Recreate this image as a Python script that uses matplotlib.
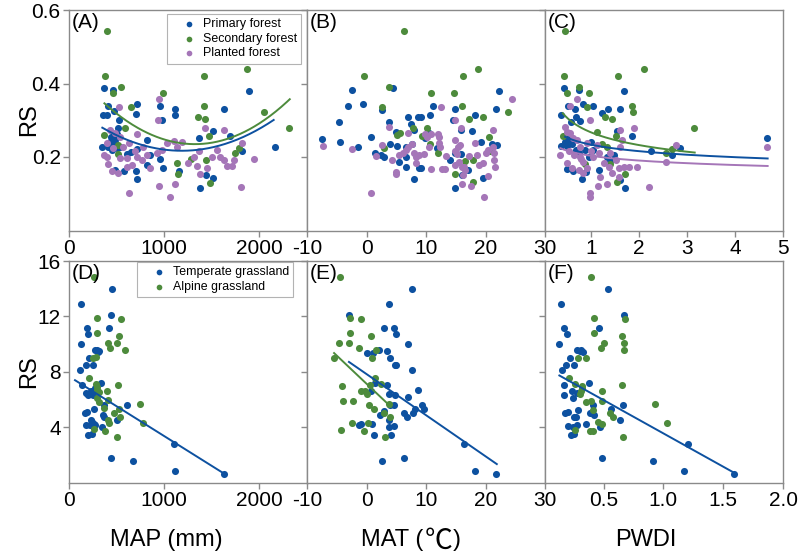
import numpy as np
import matplotlib

matplotlib.use("Agg")
import matplotlib.pyplot as plt

plt.rcParams["font.family"] = ["Liberation Sans", "Noto Sans CJK SC", "DejaVu Sans"]
plt.rcParams["axes.unicode_minus"] = False

BLUE = "#0d51a0"
GREEN = "#4d8b3c"
PURPLE = "#a576b8"
GREY = "#8a8a8a"

# ---- forest sites: (A) MAP, (B) MAT, (C) PWDI vs RS ----
a_primary_x = [372, 460, 1895, 719, 414, 958, 1109, 1116, 705, 1632, 982, 361, 396, 470, 530,
               519, 1512, 1368, 1695, 344, 824, 853, 958, 986, 2161, 1818, 712, 705, 582, 484,
               1372, 1512, 1438, 1151, 824, 649, 607, 712, 431, 466, 502, 414, 449, 484, 537,
               440, 500]
a_primary_y = [0.389, 0.382, 0.380, 0.343, 0.338, 0.338, 0.330, 0.314, 0.316, 0.330, 0.301, 0.313,
               0.313, 0.325, 0.300, 0.280, 0.272, 0.253, 0.257, 0.228, 0.246, 0.205, 0.194, 0.169,
               0.226, 0.216, 0.140, 0.161, 0.161, 0.165, 0.115, 0.142, 0.151, 0.162, 0.178, 0.213,
               0.208, 0.222, 0.242, 0.233, 0.224, 0.228, 0.219, 0.246, 0.228, 0.255, 0.262]
a_secondary_x = [403, 379, 544, 460, 986, 656, 1418, 1870, 1414, 1358, 1425, 2049, 2312, 368,
                 589, 1467, 1782, 1747, 1435, 1284, 1144, 1133, 1481, 519, 519]
a_secondary_y = [0.544, 0.420, 0.390, 0.373, 0.374, 0.335, 0.420, 0.439, 0.339, 0.308, 0.304,
                 0.323, 0.278, 0.260, 0.279, 0.257, 0.225, 0.210, 0.192, 0.195, 0.153, 0.183,
                 0.130, 0.233, 0.207]
a_planted_x = [526, 947, 937, 1425, 1625, 1818, 1940, 1803, 632, 1060, 947, 1116, 712, 365, 407,
               449, 519, 607, 659, 765, 853, 923, 1028, 1098, 1133, 1249, 1344, 1379, 1449, 1554,
               1589, 1660, 1712, 1730, 431, 484, 537, 572, 466, 396, 625, 695, 782, 817, 975,
               607, 712, 396, 537, 1186, 1309, 1502, 1361, 1625]
a_planted_y = [0.336, 0.357, 0.300, 0.279, 0.273, 0.237, 0.194, 0.118, 0.101, 0.092, 0.120,
               0.127, 0.263, 0.205, 0.181, 0.163, 0.156, 0.196, 0.178, 0.192, 0.169, 0.210,
               0.237, 0.243, 0.228, 0.184, 0.176, 0.155, 0.169, 0.218, 0.201, 0.176, 0.176,
               0.192, 0.273, 0.264, 0.255, 0.228, 0.224, 0.237, 0.237, 0.215, 0.228, 0.205,
               0.218, 0.174, 0.201, 0.201, 0.196, 0.241, 0.201, 0.201, 0.215, 0.192]

b_primary_x = [4.5, -2.5, 22.2, -3.05, -0.6, 2.6, 11.2, 14.8, 21.8, -4.7, 7.0, 8.6, 9.2, 10.6,
               18.3, 14.6, 3.8, -7.4, -4.4, -1.4, 0.8, 4.9, 7.5, 8.0, 10.5, 17.7, 15.9, 1.5, 2.5,
               3.0, 3.9, 5.1, 5.5, 6.7, 6.7, 8.9, 9.2, 7.9, 11.8, 14.1, 14.9, 16.0, 14.8, 17.1,
               19.5, 19.3, 21.1, 22.0, 15.8, 9.9, 7.6, 6.6]
b_primary_y = [0.389, 0.382, 0.380, 0.338, 0.343, 0.328, 0.338, 0.330, 0.330, 0.295, 0.310,
               0.310, 0.310, 0.315, 0.313, 0.300, 0.295, 0.250, 0.240, 0.227, 0.254, 0.267,
               0.290, 0.273, 0.265, 0.272, 0.274, 0.210, 0.205, 0.200, 0.235, 0.230, 0.187,
               0.200, 0.174, 0.170, 0.170, 0.140, 0.224, 0.193, 0.211, 0.151, 0.115, 0.165,
               0.142, 0.240, 0.235, 0.232, 0.209, 0.252, 0.235, 0.227]
b_secondary_x = [6.33, -0.44, 3.83, 10.8, 14.7, 16.2, 18.8, 2.6, 16.0, 23.8, 19.5, 17.2, 5.1,
                 5.7, 7.8, 10.2, 9.4, 20.6, 3.0, 12.1, 14.9, 17.9, 17.9, 16.6, 20.8, 10.7]
b_secondary_y = [0.544, 0.420, 0.390, 0.374, 0.374, 0.420, 0.440, 0.335, 0.339, 0.323, 0.308,
                 0.304, 0.260, 0.265, 0.279, 0.279, 0.257, 0.255, 0.225, 0.210, 0.153, 0.131,
                 0.193, 0.190, 0.217, 0.236]
b_planted_x = [-7.3, -2.4, 0.8, 19.7, 24.4, 12.5, 14.8, 15.9, 21.3, 3.8, 7.0, 9.8, 10.8, 10.2,
               12.0, 12.2, 2.6, 1.6, 4.3, 4.9, 5.0, 5.5, 6.1, 6.6, 6.9, 7.7, 8.0, 8.3, 8.4, 8.9,
               9.6, 10.5, 10.9, 12.2, 12.4, 12.7, 13.2, 13.4, 14.8, 15.3, 14.8, 15.7, 15.2, 14.9,
               15.5, 16.1, 16.4, 16.6, 16.3, 16.0, 17.5, 17.2, 18.2, 18.6, 18.9, 19.5, 20.0,
               20.5, 21.3, 21.4, 21.6, 21.5, 20.5]
b_planted_y = [0.229, 0.222, 0.101, 0.092, 0.357, 0.336, 0.300, 0.279, 0.273, 0.281, 0.264,
               0.262, 0.262, 0.255, 0.262, 0.255, 0.232, 0.202, 0.193, 0.160, 0.155, 0.205,
               0.210, 0.218, 0.227, 0.236, 0.212, 0.200, 0.183, 0.205, 0.207, 0.228, 0.166,
               0.237, 0.228, 0.166, 0.166, 0.204, 0.246, 0.228, 0.217, 0.232, 0.208, 0.178,
               0.187, 0.174, 0.174, 0.165, 0.152, 0.127, 0.120, 0.203, 0.239, 0.206, 0.178,
               0.185, 0.210, 0.219, 0.228, 0.192, 0.174, 0.210, 0.147]

c_primary_x = [0.43, 0.74, 1.68, 0.37, 0.52, 0.66, 0.68, 0.84, 1.05, 1.23, 1.35, 1.61, 0.58,
               0.77, 1.85, 1.54, 4.67, 2.24, 2.69, 2.85, 0.50, 0.53, 0.51, 0.68, 0.75, 1.00, 1.05,
               1.47, 0.50, 0.63, 0.81, 0.89, 1.16, 1.61, 1.71, 1.33, 1.40, 0.88, 0.38, 0.45,
               0.60, 0.95]
c_primary_y = [0.389, 0.382, 0.380, 0.313, 0.338, 0.330, 0.310, 0.345, 0.338, 0.320, 0.330,
               0.330, 0.295, 0.298, 0.257, 0.272, 0.251, 0.217, 0.206, 0.225, 0.230, 0.260,
               0.245, 0.220, 0.210, 0.240, 0.220, 0.206, 0.166, 0.163, 0.140, 0.160, 0.165,
               0.137, 0.115, 0.200, 0.190, 0.218, 0.231, 0.240, 0.235, 0.200]
c_secondary_x = [0.46, 0.43, 1.56, 2.11, 0.49, 0.74, 0.95, 0.91, 1.85, 1.87, 3.14, 1.30, 1.44,
                 0.41, 1.51, 0.88, 1.40, 1.71, 1.55, 2.57, 2.69, 1.13, 1.33, 1.22]
c_secondary_y = [0.544, 0.420, 0.420, 0.440, 0.373, 0.390, 0.374, 0.336, 0.339, 0.323, 0.279,
                 0.308, 0.304, 0.257, 0.257, 0.180, 0.182, 0.153, 0.131, 0.210, 0.222, 0.267,
                 0.227, 0.236]
c_planted_x = [0.70, 0.57, 0.97, 1.61, 1.89, 2.76, 2.57, 0.97, 0.97, 1.14, 2.20, 1.33, 4.67,
               0.36, 0.46, 0.49, 0.57, 0.63, 0.70, 0.77, 0.91, 1.12, 0.49, 0.60, 0.74, 0.84,
               0.91, 1.05, 1.16, 1.26, 1.37, 1.40, 1.51, 1.58, 1.68, 1.79, 1.96, 0.77, 0.84,
               1.61, 1.64, 1.44, 1.58, 1.19, 0.55, 0.65, 0.80, 1.00]
c_planted_y = [0.357, 0.338, 0.300, 0.273, 0.279, 0.232, 0.187, 0.101, 0.092, 0.120, 0.119,
               0.127, 0.228, 0.205, 0.282, 0.269, 0.264, 0.251, 0.246, 0.228, 0.237, 0.233,
               0.183, 0.169, 0.165, 0.156, 0.169, 0.200, 0.210, 0.183, 0.174, 0.210, 0.192,
               0.169, 0.174, 0.174, 0.174, 0.200, 0.187, 0.228, 0.246, 0.156, 0.146, 0.146,
               0.215, 0.205, 0.195, 0.215]

# fitted curves for the forest panels
a_primary_fit = {"x0": 1185, "y0": 0.217, "a": 9.0e-8, "span": (350, 2150)}
a_secondary_fit = {"x0": 1322, "y0": 0.235, "a": 1.23e-7, "span": (372, 2319)}
c_primary_fit = {"a": 0.2335, "b": -0.1135, "span": (0.46, 4.68)}
c_secondary_fit = {"a": 0.267, "b": -0.2001, "span": (0.41, 3.16)}
c_planted_fit = {"a": 0.2033, "b": -0.0951, "span": (0.36, 4.68)}

# ---- grassland sites: (D) MAP, (E) MAT, (F) PWDI vs RS ----
d_temperate_x = [456, 123, 439, 189, 418, 200, 126, 270, 290, 320, 300, 207, 179, 249, 116, 140,
                 333, 175, 220, 200, 250, 230, 270, 607, 372, 263, 165, 190, 361, 372, 230, 260,
                 245, 175, 220, 270, 344, 509, 196, 240, 442, 670, 1116, 1105, 1625]
d_temperate_y = [14.0, 12.86, 12.07, 11.13, 11.13, 10.70, 10.03, 9.55, 9.6, 9.5, 9.4, 9.0, 8.52,
                 8.52, 8.1, 7.03, 7.2, 6.45, 6.4, 6.3, 6.35, 6.6, 6.8, 5.59, 5.59, 5.30, 4.99,
                 5.1, 4.9, 4.75, 4.5, 4.2, 4.4, 4.14, 4.14, 4.14, 4.0, 4.5, 3.42, 3.5, 1.74, 1.57,
                 0.81, 2.77, 0.61]
d_alpine_x = [267, 291, 544, 291, 523, 410, 509, 431, 583, 250, 280, 207, 280, 291, 298, 315,
              403, 519, 298, 312, 414, 747, 530, 368, 470, 537, 414, 425, 775, 263, 375, 509]
d_alpine_y = [14.88, 11.9, 11.8, 10.8, 10.6, 10.1, 10.1, 9.7, 9.6, 9.0, 9.05, 7.58, 7.1, 6.9,
              6.7, 6.55, 6.6, 7.05, 6.09, 5.85, 5.95, 5.66, 5.33, 5.4, 5.0, 4.7, 4.5, 4.3, 4.3,
              3.83, 3.75, 3.3]

e_temperate_x = [7.72, 3.83, -2.94, 3.0, 4.6, 4.9, 7.05, 0.0, 1.17, 2.17, 3.4, 3.95, 4.8, 5.0,
                 7.6, 1.5, 3.4, 0.7, 3.7, 4.8, 8.6, 6.9, 3.95, 4.6, 8.1, 9.3, 9.6, 7.8, 6.3, 6.8,
                 2.2, 2.9, 3.7, -1.3, -0.9, 0.9, 3.8, 4.6, 1.2, 4.2, 2.6, 6.3, 16.4, 18.3, 21.8]
e_temperate_y = [14.0, 12.86, 12.07, 11.13, 11.13, 10.70, 10.03, 9.38, 9.36, 9.55, 9.5, 9.0,
                 8.52, 8.52, 8.1, 7.2, 7.03, 6.6, 6.4, 6.3, 6.7, 6.2, 5.59, 5.59, 5.30, 5.6,
                 5.3, 5.0, 5.0, 4.75, 4.9, 5.2, 4.5, 4.14, 4.2, 4.2, 4.0, 4.1, 3.4, 3.4, 1.57,
                 1.74, 2.77, 0.81, 0.61]
e_alpine_x = [-4.5, -2.7, -1.0, -2.7, 0.8, -4.7, -3.0, -1.2, 1.6, 1.0, -5.4, 1.5, -4.1, -1.0,
              -0.2, 0.0, 0.6, 2.4, -3.9, -2.3, 0.5, 1.2, 3.7, 3.0, 4.0, -4.3, -2.5, -0.4, 0.2,
              3.1]
e_alpine_y = [14.88, 11.9, 11.8, 10.8, 10.6, 10.1, 10.1, 9.7, 9.6, 9.0, 9.0, 7.58, 7.0, 6.6,
              6.6, 6.4, 7.05, 7.1, 5.9, 5.9, 5.6, 5.3, 5.7, 5.0, 4.7, 3.8, 4.3, 3.7, 4.3, 3.3]

f_temperate_x = [0.54, 0.142, 0.667, 0.461, 0.172, 0.195, 0.131, 0.28, 0.31, 0.33, 0.30, 0.217,
                 0.25, 0.184, 0.15, 0.381, 0.172, 0.236, 0.167, 0.247, 0.278, 0.284, 0.409, 0.564,
                 0.661, 0.18, 0.20, 0.39, 0.42, 0.25, 0.27, 0.634, 0.20, 0.24, 0.28, 0.35, 0.467,
                 0.23, 0.25, 0.486, 0.911, 1.175, 1.209, 1.592]
f_temperate_y = [14.0, 12.86, 12.07, 11.13, 11.13, 10.70, 10.03, 9.6, 9.55, 9.45, 9.5, 9.0,
                 8.52, 8.52, 8.1, 7.2, 7.03, 6.6, 6.3, 6.1, 6.5, 5.26, 5.6, 5.3, 5.6, 5.0, 5.1,
                 5.0, 4.9, 4.7, 4.7, 4.5, 4.1, 4.0, 4.15, 4.2, 4.0, 3.4, 3.5, 1.74, 1.57, 0.81,
                 2.77, 0.61]
f_alpine_x = [0.395, 0.417, 0.68, 0.417, 0.653, 0.50, 0.48, 0.67, 0.673, 0.29, 0.35, 0.214,
              0.653, 0.32, 0.26, 0.486, 0.30, 0.31, 0.32, 0.49, 0.394, 0.35, 0.93, 0.409, 0.55,
              0.58, 0.45, 0.49, 1.028, 0.264, 0.39, 0.41, 0.66]
f_alpine_y = [14.88, 11.9, 11.8, 10.8, 10.6, 10.1, 9.7, 9.6, 10.1, 9.0, 9.0, 7.58, 7.03, 7.0,
              7.1, 6.6, 6.4, 6.6, 6.8, 5.9, 5.9, 5.8, 5.7, 5.26, 5.0, 4.7, 4.35, 4.2, 4.3, 3.8,
              3.75, 3.7, 3.3]

# straight fits for the grassland panels (start, end)
d_temperate_line = ([63, 1625], [7.39, 0.66])
e_temperate_line = ([-2.95, 21.9], [8.71, 1.33])
e_alpine_line = ([-5.45, 4.1], [9.35, 5.47])
f_temperate_line = ([0.13, 1.59], [7.73, 0.71])


def quad(fit):
    x = np.linspace(*fit["span"], 200)
    return x, fit["y0"] + fit["a"] * (x - fit["x0"]) ** 2


def power(fit):
    x = np.linspace(*fit["span"], 200)
    return x, fit["a"] * x ** fit["b"]


def style(ax, xlim, xticks, ylim, yticks, show_y, tag):
    ax.set_xlim(*xlim)
    ax.set_ylim(*ylim)
    ax.set_xticks(xticks)
    ax.set_yticks(yticks)
    if not show_y:
        ax.set_yticklabels([])
    for s in ax.spines.values():
        s.set_color(GREY)
        s.set_linewidth(1.0)
    ax.tick_params(direction="out", length=4, width=1.0, color=GREY, labelsize=15,
                   pad=2, labelcolor="black")
    ax.text(0.01, 0.985, tag, transform=ax.transAxes, ha="left", va="top", fontsize=15)


def legend(ax, anchor):
    leg = ax.legend(loc="upper left", bbox_to_anchor=anchor, fontsize=8.9, frameon=True,
                    fancybox=False, edgecolor="#a0a0a0", handletextpad=-0.25, borderpad=0.35,
                    labelspacing=0.2, handlelength=2.8, markerscale=0.8, borderaxespad=0)
    leg.get_frame().set_linewidth(0.8)


W, H = 798, 555
fig = plt.figure(figsize=(W / 100, H / 100), dpi=100)
lefts = [69, 307, 545]
width = 238
rows = [(10, 230.5), (261, 482.5)]
axes = []
for top, bot in rows:
    row = []
    for l in lefts:
        row.append(fig.add_axes([l / W, 1 - bot / H, width / W, (bot - top) / H]))
    axes.append(row)

kw = dict(s=26, linewidths=0, zorder=2)
ax = axes[0][0]
ax.scatter(a_primary_x, a_primary_y, color=BLUE, label="Primary forest", **kw)
ax.scatter(a_secondary_x, a_secondary_y, color=GREEN, label="Secondary forest", **kw)
ax.scatter(a_planted_x, a_planted_y, color=PURPLE, label="Planted forest", **kw)
ax.plot(*quad(a_primary_fit), color=BLUE, lw=1.4, zorder=3)
ax.plot(*quad(a_secondary_fit), color=GREEN, lw=1.4, zorder=3)
style(ax, (0, 2500), [0, 1000, 2000], (0, 0.6), [0.2, 0.4, 0.6], True, "(A)")
legend(ax, ((167 - 69) / 238, (230.5 - 14) / 220.5))

ax = axes[0][1]
ax.scatter(b_primary_x, b_primary_y, color=BLUE, **kw)
ax.scatter(b_secondary_x, b_secondary_y, color=GREEN, **kw)
ax.scatter(b_planted_x, b_planted_y, color=PURPLE, **kw)
style(ax, (-10, 30), [-10, 0, 10, 20, 30], (0, 0.6), [0.2, 0.4, 0.6], False, "(B)")

ax = axes[0][2]
ax.scatter(c_primary_x, c_primary_y, color=BLUE, **kw)
ax.scatter(c_secondary_x, c_secondary_y, color=GREEN, **kw)
ax.scatter(c_planted_x, c_planted_y, color=PURPLE, **kw)
ax.plot(*power(c_primary_fit), color=BLUE, lw=1.4, zorder=3)
ax.plot(*power(c_secondary_fit), color=GREEN, lw=1.4, zorder=3)
ax.plot(*power(c_planted_fit), color=PURPLE, lw=1.4, zorder=3)
style(ax, (0.04, 5.0), [1, 2, 3, 4, 5], (0, 0.6), [0.2, 0.4, 0.6], False, "(C)")

ax = axes[1][0]
ax.scatter(d_temperate_x, d_temperate_y, color=BLUE, label="Temperate grassland", **kw)
ax.scatter(d_alpine_x, d_alpine_y, color=GREEN, label="Alpine grassland", **kw)
ax.plot(*d_temperate_line, color=BLUE, lw=1.4, zorder=3)
style(ax, (0, 2500), [0, 1000, 2000], (0, 16), [4, 8, 12, 16], True, "(D)")
legend(ax, ((137 - 69) / 238, (482.5 - 262) / 221.5))

ax = axes[1][1]
ax.scatter(e_temperate_x, e_temperate_y, color=BLUE, **kw)
ax.scatter(e_alpine_x, e_alpine_y, color=GREEN, **kw)
ax.plot(*e_temperate_line, color=BLUE, lw=1.4, zorder=3)
ax.plot(*e_alpine_line, color=GREEN, lw=1.4, zorder=3)
style(ax, (-10, 30), [-10, 0, 10, 20, 30], (0, 16), [4, 8, 12, 16], False, "(E)")

ax = axes[1][2]
ax.scatter(f_temperate_x, f_temperate_y, color=BLUE, **kw)
ax.scatter(f_alpine_x, f_alpine_y, color=GREEN, **kw)
ax.plot(*f_temperate_line, color=BLUE, lw=1.4, zorder=3)
style(ax, (0.01, 2.0), [0.5, 1.0, 1.5, 2.0], (0, 16), [4, 8, 12, 16], False, "(F)")

# axis titles placed in figure pixels
def ftext(x, y, s, **k):
    k.setdefault("fontsize", 17)
    fig.text(x / W, 1 - y / H, s, **k)

ftext(29, 120, "RS", rotation=90, ha="center", va="center")
ftext(29, 372, "RS", rotation=90, ha="center", va="center")
ftext(166, 540, "MAP (mm)", ha="center", va="center")
ftext(423, 540, "MAT (", ha="right", va="center")
ftext(439, 541, "\u2103", ha="center", va="center", fontsize=20, family=["Noto Sans CJK SC"])
ftext(453, 540, ")", ha="left", va="center")
ftext(646, 540, "PWDI", ha="center", va="center")

fig.savefig("out.png", dpi=100)
